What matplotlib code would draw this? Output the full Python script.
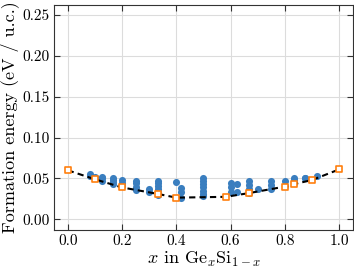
import matplotlib
matplotlib.use("Agg")
import matplotlib.pyplot as plt

plt.rcParams['font.family'] = ['cmr10', 'DejaVu Serif']
plt.rcParams['mathtext.fontset'] = 'cm'
plt.rcParams['axes.formatter.use_mathtext'] = True

# all computed structures (composition, formation energy)
comp_x = [0.083, 0.083,
          0.1, 0.1,
          0.125, 0.125, 0.125,
          0.167, 0.167, 0.167, 0.167,
          0.2, 0.2, 0.2,
          0.25, 0.25, 0.25, 0.25,
          0.3, 0.3,
          0.333, 0.333, 0.333, 0.333, 0.333, 0.333,
          0.4,
          0.417, 0.417, 0.417,
          0.5, 0.5, 0.5, 0.5, 0.5, 0.5, 0.5,
          0.6, 0.6, 0.6,
          0.625, 0.625,
          0.667, 0.667, 0.667, 0.667,
          0.7,
          0.75, 0.75, 0.75,
          0.8, 0.8,
          0.833, 0.833, 0.833,
          0.875, 0.875,
          0.917]
energy = [0.055, 0.053,
          0.052, 0.050,
          0.052, 0.050, 0.047,
          0.051, 0.048, 0.046, 0.043,
          0.048, 0.045, 0.041,
          0.047, 0.044, 0.040, 0.036,
          0.037, 0.033,
          0.047, 0.044, 0.041, 0.037, 0.034, 0.030,
          0.0455,
          0.038, 0.033, 0.026,
          0.050, 0.047, 0.043, 0.039, 0.035, 0.031, 0.028,
          0.045, 0.039, 0.033,
          0.043, 0.034,
          0.047, 0.042, 0.037, 0.032,
          0.037,
          0.047, 0.042, 0.037,
          0.047, 0.041,
          0.051, 0.048, 0.045,
          0.051, 0.050,
          0.053]

# convex hull vertices
hull_x = [0.0, 0.1, 0.2, 0.333, 0.4, 0.583, 0.667, 0.8, 0.833, 0.9, 1.0]
hull_e = [0.060, 0.049, 0.039, 0.031, 0.0265, 0.0275, 0.032, 0.040, 0.043, 0.048, 0.061]

fig = plt.figure(figsize=(3.54, 2.70), dpi=100)
ax = fig.add_axes([0.153, 0.15, 0.843, 0.832])

ax.grid(True, color='#dcdcdc', lw=0.8, zorder=0)
ax.scatter(comp_x, energy, s=26, color='#3a7ebf', lw=0, zorder=2)
ax.plot(hull_x, hull_e, ls='--', color='black', lw=1.5, dashes=(3, 2), zorder=3)
ax.scatter(hull_x, hull_e, s=20, marker='s', facecolor='white', edgecolor='#ff7f0e',
           lw=1.2, zorder=4)

ax.set_xlim(-0.05, 1.05)
ax.set_ylim(-0.0125, 0.2625)
ax.set_xticks([0.0, 0.2, 0.4, 0.6, 0.8, 1.0])
ax.set_xticklabels(['0.0', '0.2', '0.4', '0.6', '0.8', '1.0'])
ax.set_yticks([0.0, 0.05, 0.10, 0.15, 0.20, 0.25])
ax.set_yticklabels(['0.00', '0.05', '0.10', '0.15', '0.20', '0.25'])
ax.tick_params(direction='in', top=True, right=True, labelsize=11, length=4,
               color='#333333')
for sp in ax.spines.values():
    sp.set_color('#333333')

ax.set_xlabel(r'$x$ in Ge$_x$Si$_{1-x}$', fontsize=13, labelpad=1)
ax.set_ylabel('Formation energy (eV / u.c.)', fontsize=13, labelpad=2)

fig.savefig('out.png', dpi=100)
